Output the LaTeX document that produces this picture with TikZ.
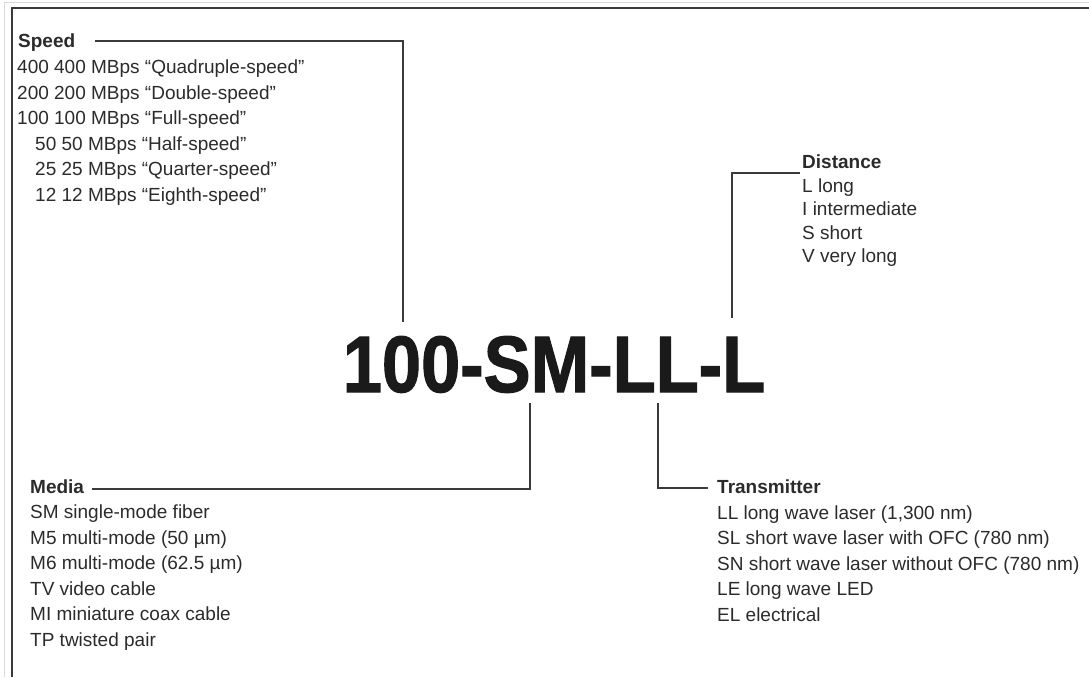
\documentclass[tikz,border=0pt]{standalone}
\usepackage{fontspec}
\usepackage{graphicx}
\setmainfont{Liberation Sans}
\newfontfamily\codefont{Liberation Sans Bold}[FakeBold=1.5]
\definecolor{txt}{HTML}{2B2B2B}
\definecolor{ln}{HTML}{3A3A3A}
\definecolor{big}{HTML}{1A1A1A}
\begin{document}
\begin{tikzpicture}[x=1pt,y=-1pt,
  lbl/.style={anchor=base west,inner sep=0pt,text=txt,font=\fontsize{19}{23}\selectfont},
  hdr/.style={lbl,font=\fontsize{19}{23}\selectfont\bfseries},
  conn/.style={draw=ln,line width=2pt},
  frameline/.style={draw=ln,line width=2pt}]
\useasboundingbox (0,0) rectangle (1089,677);
% frame
\draw[black!15,line width=1pt] (4,677) -- (4,3) -- (1089,3);
\draw[frameline] (12,677) -- (12,8) -- (1089,8);

% main code
\node[anchor=base,inner sep=0pt,text=big] (code) at (554,392)
  {\scalebox{0.88}[1]{\fontsize{80}{80}\codefont 100-SM-LL-L}};

% Speed
\node[hdr] (speed) at (18,48) {Speed};
\node[lbl] (sp1) at (17,74) {400 400 MBps “Quadruple-speed”};
\node[lbl] (sp2) at (17,99.4) {200 200 MBps “Double-speed”};
\node[lbl] (sp3) at (17,124.8) {100 100 MBps “Full-speed”};
\node[lbl] (sp4) at (35,150.2) {50 50 MBps “Half-speed”};
\node[lbl] (sp5) at (35,175.6) {25 25 MBps “Quarter-speed”};
\node[lbl] (sp6) at (35,201) {12 12 MBps “Eighth-speed”};

% Distance
\node[hdr] (dist) at (802,168) {Distance};
\node[lbl] (d1) at (802,192) {L long};
\node[lbl] (d2) at (802,215.5) {I intermediate};
\node[lbl] (d3) at (802,239) {S short};
\node[lbl] (d4) at (802,262.5) {V very long};

% Media
\node[hdr] (media) at (30,493) {Media};
\node[lbl] (m1) at (30,518.5) {SM single-mode fiber};
\node[lbl] (m2) at (30,544) {M5 multi-mode (50 µm)};
\node[lbl] (m3) at (30,569.5) {M6 multi-mode (62.5 µm)};
\node[lbl] (m4) at (30,595) {TV video cable};
\node[lbl] (m5) at (30,620.5) {MI miniature coax cable};
\node[lbl] (m6) at (30,646) {TP twisted pair};

% Transmitter
\node[hdr] (trans) at (717,493) {Transmitter};
\node[lbl] (t1) at (717,519) {LL long wave laser (1,300 nm)};
\node[lbl] (t2) at (717,544.5) {SL short wave laser with OFC (780 nm)};
\node[lbl] (t3) at (717,570) {SN short wave laser without OFC (780 nm)};
\node[lbl] (t4) at (717,595.5) {LE long wave LED};
\node[lbl] (t5) at (717,621) {EL electrical};

% connector end points
\coordinate (spA) at (95,41);
\coordinate (spB) at (403,322);
\coordinate (dsA) at (800,173);
\coordinate (dsB) at (732,318);
\coordinate (mdA) at (92,489);
\coordinate (mdB) at (530,403);
\coordinate (trA) at (708,488);
\coordinate (trB) at (658,403);

\draw[conn] (spA) -| (spB);
\draw[conn] (dsB) |- (dsA);
\draw[conn] (mdA) -| (mdB);
\draw[conn] (trB) |- (trA);
\end{tikzpicture}
\end{document}
